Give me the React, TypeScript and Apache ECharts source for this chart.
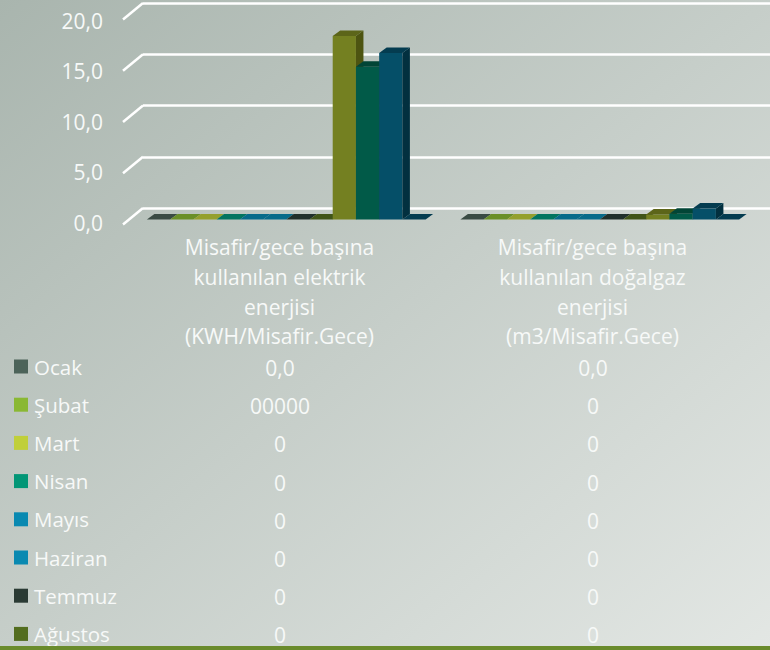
import React, { useEffect, useRef } from "react";
import * as echarts from "echarts";

const categories = [
  "Misafir/gece başına\nkullanılan elektrik\nenerjisi\n(KWH/Misafir.Gece)",
  "Misafir/gece başına\nkullanılan doğalgaz\nenerjisi\n(m3/Misafir.Gece)",
];
const months = ["Ocak", "Şubat", "Mart", "Nisan", "Mayıs", "Haziran", "Temmuz", "Ağustos", "Eylül", "Ekim", "Kasım", "Aralık"];
const ocak = [0, 0];
const subat = [0, 0];
const mart = [0, 0];
const nisan = [0, 0];
const mayis = [0, 0];
const haziran = [0, 0];
const temmuz = [0, 0];
const agustos = [0, 0];
const eylul = [17.9, 0.5];
const ekim = [14.9, 0.55];
const kasim = [16.25, 1.07];
const aralik = [0, 0];
const allValues = [ocak, subat, mart, nisan, mayis, haziran, temmuz, agustos, eylul, ekim, kasim, aralik];
const tableRows = [
  ["0,0", "0,0"],
  ["00000", "0"],
  ["0", "0"],
  ["0", "0"],
  ["0", "0"],
  ["0", "0"],
  ["0", "0"],
  ["0", "0"],
];
const legendMonths = months.slice(0, 8);
const wallTicks = [0, 5, 10, 15, 20];

const frontColors = ["#4c6359", "#8ab833", "#c0cf3a", "#029676", "#0989b1", "#0989b1", "#2a3a34", "#536d1f", "#748021", "#015a48", "#054f68", "#054f68"];
const topColors = ["#3a4b44", "#6a8f28", "#94a02d", "#027560", "#076b8a", "#076b8a", "#20302b", "#405518", "#5c6519", "#014536", "#043c50", "#043c50"];
const sideColors = ["#2c3a34", "#50701e", "#6f7a22", "#015848", "#055268", "#055268", "#182420", "#2f3f12", "#4d5411", "#01372b", "#02303f", "#02303f"];

const FONT = "Open Sans";
const TEXT = "#f7f9f8";

export default function App() {
  const ref = useRef<HTMLDivElement>(null);
  useEffect(() => {
    const chart = echarts.init(ref.current!, undefined, { renderer: "svg" });
    const barSeries = months.map((name, si) => ({
      name,
      type: "custom",
      xAxisIndex: 0,
      yAxisIndex: 0,
      clip: false,
      z: 5,
      itemStyle: { color: frontColors[si] },
      encode: { x: 0, y: 1 },
      data: allValues[si].map((v, ci) => [ci, v]),
      renderItem: (_p: any, api: any) => {
        const ci = api.value(0);
        const v = api.value(1);
        const band = api.size([1, 0])[0];
        const w = band * 0.0741;
        const dx = 7.5;
        const dy = 5.5;
        const base = api.coord([ci, 0]);
        const top = api.coord([ci, v]);
        const x0 = base[0] + (si - 6) * w - 13.5;
        const x1 = x0 + w;
        const yb = base[1] + 11.5;
        const yt = top[1] + 11.5;
        const children: any[] = [];
        if (v > 0) {
          children.push({ type: "rect", shape: { x: x0, y: yt, width: w, height: yb - yt }, style: { fill: frontColors[si] } });
          children.push({ type: "polygon", shape: { points: [[x1, yt], [x1 + dx, yt - dy], [x1 + dx, yb - dy], [x1, yb]] }, style: { fill: sideColors[si] } });
        }
        children.push({ type: "polygon", shape: { points: [[x0, yt], [x0 + dx, yt - dy], [x1 + dx, yt - dy], [x1, yt]] }, style: { fill: topColors[si] } });
        return { type: "group", children };
      },
    }));
    const wallSeries = {
      name: "wall",
      type: "custom",
      xAxisIndex: 0,
      yAxisIndex: 0,
      clip: false,
      silent: true,
      z: 2,
      encode: { x: 0, y: 1 },
      data: wallTicks.map((t) => [0, t]),
      renderItem: (p: any, api: any) => {
        const y = api.coord([0, api.value(1)])[1];
        const x = p.coordSys.x;
        return {
          type: "line",
          shape: { x1: x, y1: y, x2: x - 20, y2: y + 16.5 },
          style: { stroke: "#ffffff", lineWidth: 2.5 },
        };
      },
    };
    const tableGraphics: any[] = [];
    tableRows.forEach((row, r) => {
      row.forEach((txt, c) => {
        tableGraphics.push({
          type: "text",
          x: c === 0 ? 280 : 593,
          y: 368 + r * 38.2,
          style: { text: txt, fill: TEXT, font: `21px ${FONT}`, textAlign: "center", textVerticalAlign: "middle" },
        });
      });
    });
    tableGraphics.push({ type: "rect", z: 100, shape: { x: 0, y: 646, width: 770, height: 4 }, style: { fill: "#6a8b2c" } });
    chart.setOption({
      animation: false,
      backgroundColor: new echarts.graphic.LinearGradient(0, 0, 1, 1, [
        { offset: 0, color: "#a9b5ae" },
        { offset: 1, color: "#e3e7e4" },
      ]),
      legend: {
        data: legendMonths,
        orient: "vertical",
        left: 14,
        top: 356,
        height: 300,
        padding: 0,
        icon: "rect",
        itemWidth: 14,
        itemHeight: 14,
        itemGap: 17.2,
        selectedMode: false,
        textStyle: { color: TEXT, fontFamily: FONT, fontSize: 20.5, lineHeight: 20, padding: [0, 0, 0, 1] },
      },
      grid: [
        { left: 143, top: 3, width: 627, height: 205 },
        { left: 123, top: 20.5, width: 626, height: 202 },
      ],
      xAxis: [
        { type: "category", gridIndex: 0, data: categories, show: false },
        {
          type: "category",
          gridIndex: 1,
          data: categories,
          axisLine: { show: false },
          axisTick: { show: false },
          axisLabel: { interval: 0, color: TEXT, fontFamily: FONT, fontSize: 21, lineHeight: 29.6, margin: 10 },
        },
      ],
      yAxis: [
        {
          type: "value",
          gridIndex: 0,
          min: 0,
          max: 20,
          interval: 5,
          axisLine: { show: false },
          axisTick: { show: false },
          axisLabel: { show: false },
          splitLine: { lineStyle: { color: "#ffffff", width: 2.5 } },
        },
        {
          type: "value",
          gridIndex: 1,
          min: 0,
          max: 20,
          interval: 5,
          axisLine: { show: false },
          axisTick: { show: false },
          splitLine: { show: false },
          axisLabel: {
            color: TEXT,
            fontFamily: FONT,
            fontSize: 21,
            margin: 20,
            formatter: (v: number) => v.toFixed(1).replace(".", ","),
          },
        },
      ],
      series: [wallSeries, ...barSeries],
      graphic: tableGraphics,
    });
    return () => chart.dispose();
  }, []);
  return <div ref={ref} style={{ position: "absolute", left: 0, top: 0, width: 770, height: 650 }} />;
}
